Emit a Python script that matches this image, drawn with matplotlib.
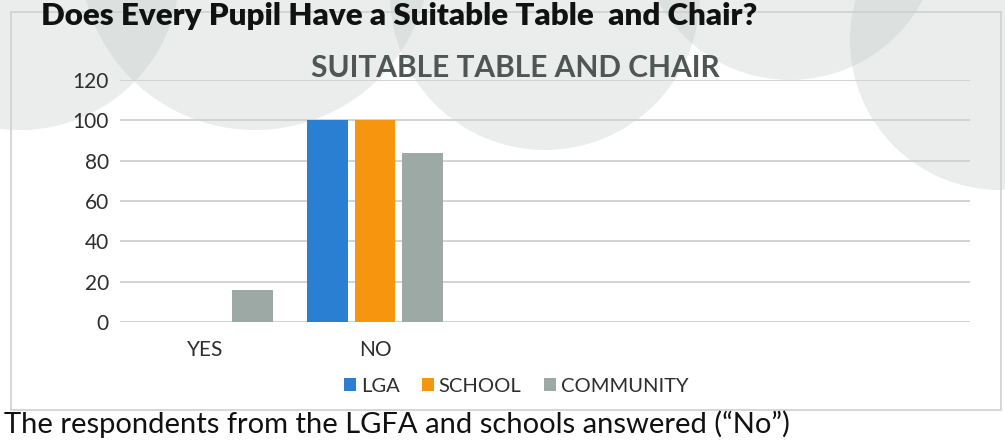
import numpy as np
import matplotlib
matplotlib.use("Agg")
import matplotlib.pyplot as plt
from matplotlib.patches import Ellipse, Rectangle, Patch

# ---- data -------------------------------------------------------------
categories = ["YES", "NO", "", "", ""]
series_names = ["LGA", "SCHOOL", "COMMUNITY"]
lga = [0, 100, np.nan, np.nan, np.nan]
school = [0, 100, np.nan, np.nan, np.nan]
community = [16, 84, np.nan, np.nan, np.nan]
y_ticks = [0, 20, 40, 60, 80, 100, 120]

chart_title = "SUITABLE TABLE AND CHAIR"
page_heading = "Does Every Pupil Have a Suitable Table  and Chair?"
page_body = "The respondents from the LGFA and schools answered (\u201cNo\u201d)"

# ---- styling ----------------------------------------------------------
colors = ["#2a7fd2", "#f8950f", "#9ca9a4"]
W, H = 1005, 441
plt.rcParams["font.family"] = ["Lato", "DejaVu Sans"]


def fx(x):
    return x / W


def fy(y):
    return 1 - y / H


fig = plt.figure(figsize=(W / 100, H / 100), dpi=100)
fig.patch.set_facecolor("white")

# decorative page circles behind the chart
for cx, cy, r in [(20, -30, 160), (255, -45, 175), (545, -5, 155),
                  (790, -70, 150), (1000, 40, 150)]:
    fig.add_artist(Ellipse((fx(cx), fy(cy)), 2 * r / W, 2 * r / H,
                           transform=fig.transFigure, facecolor="#c3ccc9",
                           edgecolor="none", alpha=0.35, zorder=0))

# chart frame
fig.add_artist(Rectangle((fx(11), fy(410)), (1001 - 11) / W, (410 - 12) / H,
                         transform=fig.transFigure, fill=False,
                         edgecolor="#cfcfcf", lw=1.2, zorder=1))

ax = fig.add_axes([fx(120), fy(322), 850 / W, 242 / H])
ax.set_facecolor("none")
ax.set_zorder(2)

x = np.arange(len(categories))
bw = 0.24
step = 0.28
for i, (vals, col, name) in enumerate(zip([lga, school, community], colors, series_names)):
    ax.bar(x + (i - 1) * step, vals, width=bw, color=col, label=name, zorder=3)

ax.set_xlim(-0.5, len(categories) - 0.5)
ax.set_ylim(0, 120)
ax.set_yticks(y_ticks)
ax.set_xticks(x)
ax.set_xticklabels(categories)
ax.grid(axis="y", color="#d2d2d2", lw=1.4)
ax.set_axisbelow(True)
for s in ax.spines.values():
    s.set_visible(False)
ax.tick_params(axis="y", length=0, pad=8, labelsize=15, labelcolor="#2e2e2e")
ax.tick_params(axis="x", length=0, pad=13, labelsize=15, labelcolor="#2e2e2e")

fig.text(fx(515), fy(68), chart_title, ha="center", va="center",
         fontsize=21.5, fontweight="bold", color="#4f5653", zorder=4)

handles = [Patch(facecolor=c, edgecolor="none") for c in colors]
fig.legend(handles, series_names, loc="center", bbox_to_anchor=(fx(516), fy(386)),
           ncol=3, frameon=False, fontsize=14.5, handlelength=0.6, handleheight=0.6,
           handletextpad=0.25, columnspacing=1.1, labelcolor="#2e2e2e")

# page text above and below the chart
fig.text(fx(757), fy(25), page_heading, ha="right", va="baseline",
         fontsize=22.5, fontweight="heavy", color="#111111", zorder=5)
fig.text(fx(4), fy(433), page_body, ha="left", va="baseline",
         fontsize=21, color="#111111", zorder=5)

fig.savefig("out.png", dpi=100)
